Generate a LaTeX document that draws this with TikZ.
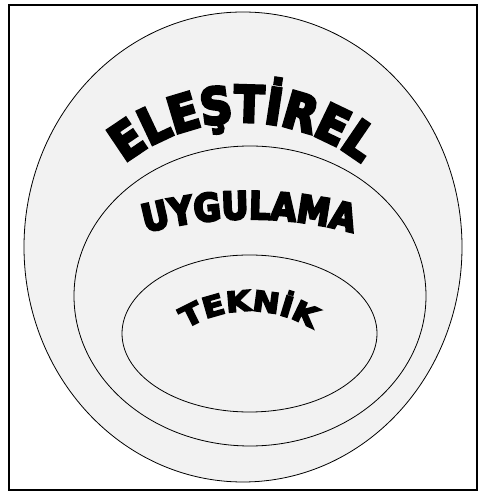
\documentclass[tikz,border=0pt]{standalone}
\usepackage{fontspec}
\usepackage{tikz}
\usetikzlibrary{shapes.geometric, positioning, decorations.text}

\newfontfamily\archfont{DejaVu Sans Bold}[FakeBold=6, FakeStretch=0.87]
\newfontfamily\tekfont{DejaVu Sans Bold}[FakeBold=6, FakeStretch=1.15]
\definecolor{ringgray}{HTML}{F2F2F2}

\tikzset{
  frame/.style={draw, line width=1.5pt},
  ring/.style={ellipse, draw, line width=0.8pt, fill=ringgray, inner sep=0pt},
  archtext/.style={decorate, decoration={text along path, text align=center}},
}

\begin{document}
\begin{tikzpicture}[x=1pt, y=1pt]

  \useasboundingbox (0,0) rectangle (485,495);
  \node[frame, rectangle, minimum width=468pt, minimum height=485pt, inner sep=0pt] (box) at (243,247.5) {};

  % the three nested levels
  \node[ring, minimum width=438pt, minimum height=470pt] (outer)  at (243,248) {};
  \node[ring, minimum width=352pt, minimum height=300pt] (middle) at (250,199) {};
  \node[ring, minimum width=255pt, minimum height=157pt] (inner)  at (249.5,161.5) {};

  % arc centres for the curved labels
  \coordinate (elestirel) at (243,183);
  \coordinate (uygulama) at (249,-124);
  \coordinate (teknik) at (249,64);

  \path[archtext, decoration={text={|\archfont\fontsize{50}{50}\selectfont|ELEŞTİREL}}]
    ([shift={(160:190)}]elestirel) arc[start angle=160, end angle=20, radius=190];

  \path[archtext, decoration={text={|\archfont\fontsize{38}{38}\selectfont|UYGULAMA}}]
    ([shift={(110:400)}]uygulama) arc[start angle=110, end angle=70, radius=400];

  \path[archtext, decoration={text={|\tekfont\fontsize{28}{28}\selectfont|TEKNİK}}]
    ([shift={(150:120)}]teknik) arc[start angle=150, end angle=30, radius=120];

\end{tikzpicture}
\end{document}
